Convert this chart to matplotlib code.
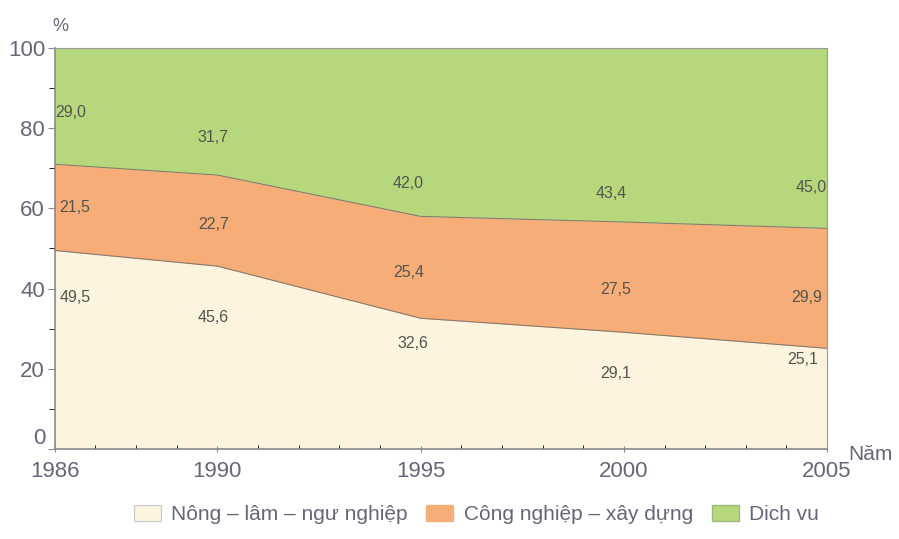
import matplotlib
matplotlib.use('Agg')
import matplotlib.pyplot as plt
from matplotlib.ticker import MultipleLocator
from matplotlib.patches import Patch
import numpy as np

# Dữ liệu (%)
nam = [1986, 1990, 1995, 2000, 2005]
nong_lam_ngu = [49.5, 45.6, 32.6, 29.1, 25.1]
cong_nghiep = [21.5, 22.7, 25.4, 27.5, 29.9]
dich_vu = [29.0, 31.7, 42.0, 43.4, 45.0]
ten_nganh = ['Nông – lâm – ngư nghiệp', 'Công nghiệp – xây dựng', 'Dich vu']

# vị trí nhãn số (năm, %) cho từng nhóm
vt_nong = [(1986.5, 37.9), (1989.9, 32.7), (1994.8, 26.2), (1999.8, 18.7), (2004.4, 22.2)]
vt_cn = [(1986.5, 60.3), (1989.9, 55.9), (1994.7, 44.1), (1999.8, 39.7), (2004.5, 37.9)]
vt_dv = [(1986.4, 84.0), (1989.9, 77.6), (1994.7, 66.3), (1999.7, 63.8), (2004.6, 65.1)]

mau_nong = '#fdf4df'
mau_cn = '#f6ad78'
mau_dv = '#b6d77c'
mau_chu = '#66667a'
mau_so = '#55554f'

plt.rcParams['font.family'] = ['Liberation Sans', 'DejaVu Sans']

fig = plt.figure(figsize=(8.99, 5.39), dpi=100)
ax = fig.add_axes([0.061, 0.167, 0.859, 0.744])

x = np.array(nam)
a = np.array(nong_lam_ngu)
b = a + np.array(cong_nghiep)
c = b + np.array(dich_vu)

ax.fill_between(x, 0, a, color=mau_nong, lw=0)
ax.fill_between(x, a, b, color=mau_cn, lw=0)
ax.fill_between(x, b, c, color=mau_dv, lw=0)
ax.plot(x, a, color='#8a7a6a', lw=0.8)
ax.plot(x, b, color='#8a7a6a', lw=0.8)
ax.plot(x, c, color='#8a8a7a', lw=0.8)

for vals, vts in [(nong_lam_ngu, vt_nong), (cong_nghiep, vt_cn), (dich_vu, vt_dv)]:
    for v, (px, py) in zip(vals, vts):
        ax.text(px, py, ('%.1f' % v).replace('.', ','), ha='center', va='center',
                fontsize=11.5, color=mau_so)

ax.set_xlim(1986, 2005)
ax.set_ylim(0, 100)
ax.set_xticks(nam)
ax.set_yticks([0, 20, 40, 60, 80, 100])
ax.xaxis.set_minor_locator(MultipleLocator(1))
ax.yaxis.set_minor_locator(MultipleLocator(10))
ax.tick_params(axis='both', labelsize=16, colors='#888890', labelcolor=mau_chu)
ax.tick_params(axis='y', which='major', length=5, pad=2)
ax.tick_params(axis='y', which='minor', length=4)
ax.tick_params(axis='x', which='major', length=5, direction='inout', pad=6)
ax.tick_params(axis='x', which='minor', length=3, direction='in')
# nhãn 0 nằm phía trên trục x
ax.yaxis.get_major_ticks()[0].label1.set_verticalalignment('bottom')

for s in ['left', 'bottom']:
    ax.spines[s].set_color('#888890')
    ax.spines[s].set_linewidth(1.2)
for s in ['top', 'right']:
    ax.spines[s].set_color('#9a9a9a')
    ax.spines[s].set_linewidth(0.8)

fig.text(0.067, 0.95, '%', fontsize=13, color=mau_chu, ha='center', va='center')
fig.text(0.968, 0.157, 'Năm', fontsize=15, color=mau_chu, ha='center', va='center')

handles = [Patch(facecolor=mau_nong, edgecolor='#c8c8c8', lw=0.8),
           Patch(facecolor=mau_cn, edgecolor=mau_cn),
           Patch(facecolor=mau_dv, edgecolor='#a0b880')]
fig.legend(handles, ten_nganh, loc='center', bbox_to_anchor=(0.53, 0.045), ncol=3,
           frameon=False, fontsize=15, handlelength=1.3, handleheight=0.8,
           handletextpad=0.5, columnspacing=0.9, labelcolor=mau_chu)

fig.savefig('out.png', dpi=100)
